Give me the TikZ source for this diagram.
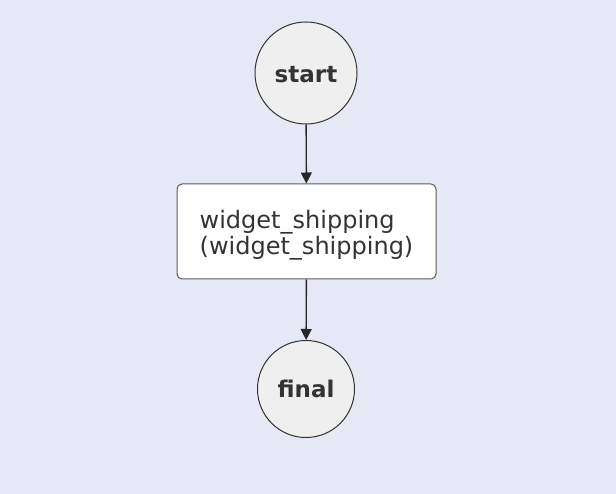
\documentclass[tikz,border=0pt]{standalone}
\usepackage{fontspec}
\setmainfont{DejaVu Sans}
\usetikzlibrary{arrows.meta}

\definecolor{bgcol}{HTML}{E6E8F6}
\definecolor{statefill}{HTML}{EFEFEF}
\definecolor{inkcol}{HTML}{333333}

\begin{document}
\begin{tikzpicture}
	[x=1pt,y=-1pt,line width=1pt,
	 endpoint/.style={circle,draw=inkcol,fill=statefill,inner sep=0pt,text=inkcol,
	   font=\fontsize{23}{26}\selectfont\bfseries},
	 task/.style={rectangle,rounded corners=5pt,draw=inkcol!80,fill=white,text=inkcol,
	   minimum width=259pt,minimum height=95pt,
	   font=\fontsize{24}{26}\selectfont},
	 flow/.style={-{Triangle[length=11pt,width=11pt]},draw=black!85,line width=1.4pt}]
	\fill[bgcol] (0,0) rectangle (616,494);
	\useasboundingbox (0,0) rectangle (616,494);
	\node[endpoint, minimum size=102pt] (start) at (306,73) {\raisebox{-2pt}[\height][\depth]{start}};
	\node[task] (ship) at (306.5,231.5)
	  {\raisebox{-5pt}[\height][\depth]{\begin{tabular}{@{}l@{}}widget\_shipping\\(widget\_shipping)\end{tabular}}};
	\node[endpoint, minimum size=97pt] (final) at (306,389) {final};
	
	\foreach \from/\to in {start/ship,ship/final}
	\draw[flow] (\from) -- (\to);
	\end{tikzpicture}
\end{document}
